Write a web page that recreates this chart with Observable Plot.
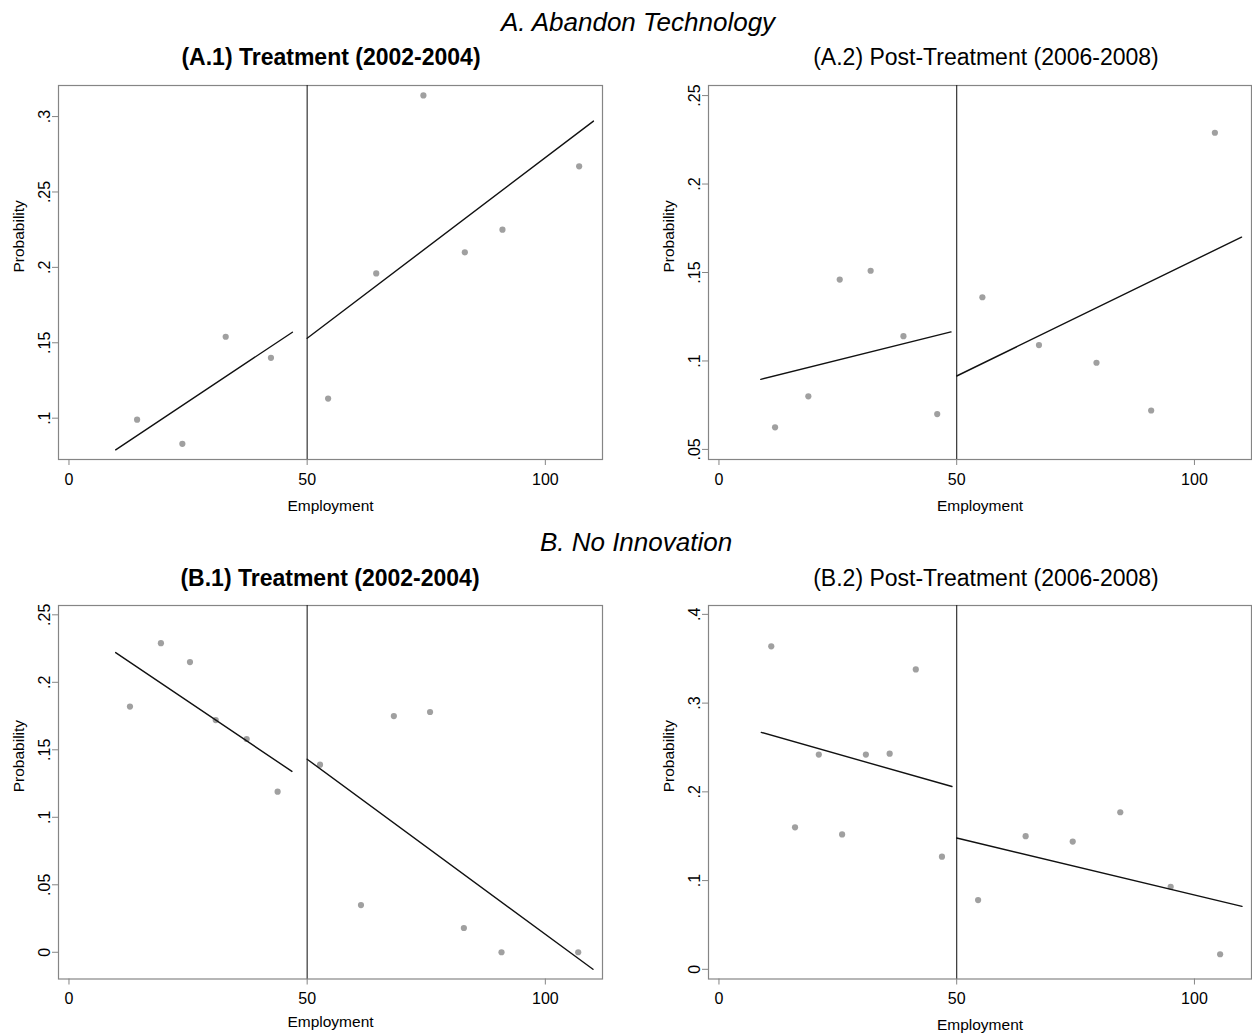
<!DOCTYPE html>
<html>
<head>
<meta charset="utf-8">
<script src="https://cdn.jsdelivr.net/npm/d3@7"></script>
<script src="https://cdn.jsdelivr.net/npm/@observablehq/plot@0.6"></script>
<style>
  html, body { margin: 0; padding: 0; background: #fff; overflow: hidden; }
  #page { position: relative; width: 1252px; height: 1036px; background: #fff; font-family: "Liberation Sans", Arial, Helvetica, sans-serif; color: #000; }
  .t { position: absolute; white-space: nowrap; line-height: 1; transform: translateX(-50%); }
  .main { font-size: 26px; font-style: italic; }
  .sub { font-size: 23px; }
  .bold { font-weight: bold; }
  .panel { position: absolute; }
</style>
</head>
<body>
<div id="page">
  <div class="t main" style="left:638px; top:9px;">A. Abandon Technology</div>
  <div class="t sub bold" style="left:331px; top:46px;">(A.1) Treatment (2002-2004)</div>
  <div class="t sub" style="left:986px; top:46px;">(A.2) Post-Treatment (2006-2008)</div>
  <div class="t main" style="left:636px; top:529px;">B. No Innovation</div>
  <div class="t sub bold" style="left:330px; top:567px;">(B.1) Treatment (2002-2004)</div>
  <div class="t sub" style="left:986px; top:567px;">(B.2) Post-Treatment (2006-2008)</div>
  <div id="a1" class="panel" style="left:0px; top:75px;"></div>
  <div id="a2" class="panel" style="left:640px; top:75px;"></div>
  <div id="b1" class="panel" style="left:0px; top:595px;"></div>
  <div id="b2" class="panel" style="left:640px; top:595px;"></div>
</div>
<script>
// ---------- Data ----------
// Panel A.1 : Abandon Technology, Treatment (2002-2004)
const a1Employment = [14.3, 23.8, 32.9, 42.4, 54.4, 64.5, 74.4, 83.1, 91.0, 107.1];
const a1Probability = [0.099, 0.083, 0.154, 0.140, 0.113, 0.196, 0.314, 0.210, 0.225, 0.267];
const a1FitLeftX = [9.8, 46.9];
const a1FitLeftY = [0.079, 0.157];
const a1FitRightX = [50.0, 110.1];
const a1FitRightY = [0.153, 0.297];
const a1YTicks = [0.1, 0.15, 0.2, 0.25, 0.3];

// Panel A.2 : Abandon Technology, Post-Treatment (2006-2008)
const a2Employment = [11.8, 18.8, 25.4, 31.9, 38.8, 45.9, 55.4, 67.3, 79.4, 90.9, 104.3];
const a2Probability = [0.0625, 0.080, 0.146, 0.151, 0.114, 0.070, 0.136, 0.109, 0.099, 0.072, 0.229];
const a2FitLeftX = [8.8, 48.8];
const a2FitLeftY = [0.0896, 0.1164];
const a2FitRightX = [50.0, 109.9];
const a2FitRightY = [0.0915, 0.170];
const a2YTicks = [0.05, 0.1, 0.15, 0.2, 0.25];

// Panel B.1 : No Innovation, Treatment (2002-2004)
const b1Employment = [12.8, 19.3, 25.4, 30.8, 37.3, 43.8, 52.7, 61.3, 68.2, 75.8, 82.9, 90.8, 106.9];
const b1Probability = [0.182, 0.229, 0.215, 0.172, 0.158, 0.119, 0.139, 0.035, 0.175, 0.178, 0.018, 0.0, 0.0];
const b1FitLeftX = [9.8, 46.8];
const b1FitLeftY = [0.222, 0.134];
const b1FitRightX = [50.0, 110.0];
const b1FitRightY = [0.143, -0.0126];
const b1YTicks = [0, 0.05, 0.1, 0.15, 0.2, 0.25];

// Panel B.2 : No Innovation, Post-Treatment (2006-2008)
const b2Employment = [11.0, 16.0, 21.0, 25.9, 30.9, 35.9, 41.4, 46.9, 54.5, 64.5, 74.4, 84.4, 95.0, 105.4];
const b2Probability = [0.364, 0.160, 0.242, 0.152, 0.242, 0.243, 0.338, 0.127, 0.078, 0.150, 0.144, 0.177, 0.093, 0.017];
const b2FitLeftX = [8.9, 49.0];
const b2FitLeftY = [0.267, 0.206];
const b2FitRightX = [50.0, 110.0];
const b2FitRightY = [0.148, 0.071];
const b2YTicks = [0, 0.1, 0.2, 0.3, 0.4];

const xTicks = [0, 50, 100];
const cutoff = [50];

// ---------- Drawing ----------
const fmt = d => d === 0 ? "0" : String(+d.toFixed(3)).replace(/^0\./, ".").replace(/^-0\./, "-.");
const FONT = "Liberation Sans, Arial, Helvetica, sans-serif";

function panel(sel, cfg) {
  const pts = cfg.emp.map((e, i) => ({x: e, y: cfg.prob[i]}));
  const fit = [
    ...cfg.flx.map((x, i) => ({x, y: cfg.fly[i], seg: "left"})),
    ...cfg.frx.map((x, i) => ({x, y: cfg.fry[i], seg: "right"}))
  ];
  const chart = Plot.plot({
    width: cfg.width,
    height: cfg.height,
    marginLeft: cfg.ml,
    marginRight: cfg.mr,
    marginTop: 10,
    marginBottom: cfg.mb,
    x: {domain: [-2.2, 112]},
    y: {domain: cfg.ydom},
    style: {fontFamily: FONT, fontSize: "16px", color: "#000", background: "transparent", overflow: "visible"},
    marks: [
      Plot.frame({stroke: "#858585", strokeWidth: 1.2}),
      Plot.axisX({ticks: xTicks, tickFormat: d => String(d), tickSize: 6, tickPadding: 8, stroke: "#858585", fill: "#000", fontSize: 16, label: null}),
      Plot.axisY({ticks: cfg.yticks, tickFormat: fmt, tickSize: 6, tickRotate: -90, stroke: "#858585", fill: "#000", fontSize: 16, label: null}),
      Plot.ruleX(cutoff, {stroke: "#222", strokeWidth: 1.1}),
      Plot.dot(pts, {x: "x", y: "y", r: 3.1, fill: "#a0a0a0", stroke: "none"}),
      Plot.line(fit, {x: "x", y: "y", z: "seg", stroke: "#111", strokeWidth: 1.4}),
      Plot.text(["Employment"], {text: d => d, frameAnchor: "bottom", dy: cfg.labDy, lineAnchor: "bottom", fontSize: 15.5, fill: "#000"}),
      Plot.text(["Probability"], {text: d => d, frameAnchor: "left", dx: -39, rotate: -90, lineAnchor: "middle", fontSize: 15.5, fill: "#000"})
    ]
  });
  document.querySelector(sel).appendChild(chart);
}

panel("#a1", {emp: a1Employment, prob: a1Probability, flx: a1FitLeftX, fly: a1FitLeftY, frx: a1FitRightX, fry: a1FitRightY,
  yticks: a1YTicks, ydom: [0.0726, 0.3206], width: 620, height: 444, ml: 58, mr: 18, mb: 60, labDy: 51});
panel("#a2", {emp: a2Employment, prob: a2Probability, flx: a2FitLeftX, fly: a2FitLeftY, frx: a2FitRightX, fry: a2FitRightY,
  yticks: a2YTicks, ydom: [0.0443, 0.2557], width: 612, height: 444, ml: 68, mr: 1, mb: 60, labDy: 51});
panel("#b1", {emp: b1Employment, prob: b1Probability, flx: b1FitLeftX, fly: b1FitLeftY, frx: b1FitRightX, fry: b1FitRightY,
  yticks: b1YTicks, ydom: [-0.0198, 0.2569], width: 620, height: 440.5, ml: 58, mr: 18, mb: 57, labDy: 48});
panel("#b2", {emp: b2Employment, prob: b2Probability, flx: b2FitLeftX, fly: b2FitLeftY, frx: b2FitRightX, fry: b2FitRightY,
  yticks: b2YTicks, ydom: [-0.0109, 0.410], width: 612, height: 440.5, ml: 68, mr: 1, mb: 57, labDy: 51});
</script>
</body>
</html>
